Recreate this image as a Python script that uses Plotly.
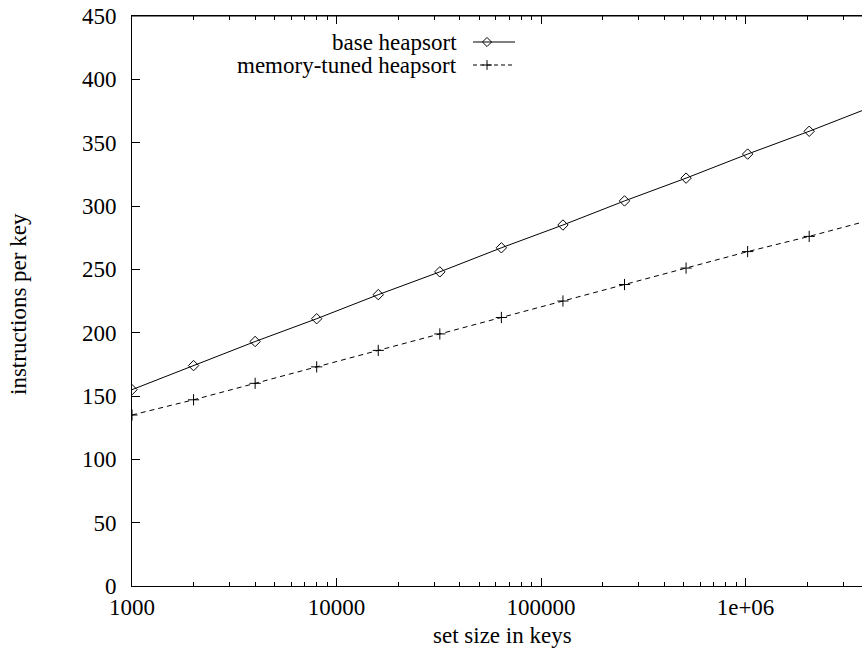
import plotly.graph_objects as go

# Set sizes (keys) and instruction counts per key
set_size = [1000, 2000, 4000, 8000, 16000, 32000, 64000, 128000,
            256000, 512000, 1024000, 2048000, 4096000]
base_heapsort = [155, 174, 193, 211, 230, 248, 267, 285,
                 304, 322, 341, 359, 378]
tuned_heapsort = [135, 147, 160, 173, 186, 199, 212, 225,
                  238, 251, 264, 276, 289]

x_tickvals = [1000, 10000, 100000, 1000000]
x_ticktext = ["1000", "10000", "100000", "1e+06"]
y_tickvals = [0, 50, 100, 150, 200, 250, 300, 350, 400, 450]

legend_names = ["base heapsort", "memory-tuned heapsort"]

FONT = "Liberation Serif"
FS = 23
W, H = 862, 649
L, R, T, B = 132, 0, 16, 63
XRANGE = [3, 6.5695]
YRANGE = [0, 450]

minor_vals = []
for dec in [1000, 10000, 100000, 1000000]:
    for m in range(2, 10):
        minor_vals.append(dec * m)

fig = go.Figure()

fig.add_trace(go.Scatter(
    x=set_size, y=base_heapsort, mode="lines+markers",
    line=dict(color="black", width=1),
    marker=dict(symbol="diamond-open", size=8, color="black",
                line=dict(width=1, color="black")),
    showlegend=False, cliponaxis=True,
))
fig.add_trace(go.Scatter(
    x=set_size, y=tuned_heapsort, mode="lines+markers",
    line=dict(color="black", width=1, dash="5px,4px"),
    marker=dict(symbol="cross-thin-open", size=8, color="black",
                line=dict(width=1, color="black")),
    showlegend=False, cliponaxis=True,
))

# Key placement helpers (pixel -> paper / axis units)
pw = W - L - R
ph = H - T - B
def px_to_paper_x(px):
    return (px - L) / pw
def px_to_paper_y(py):
    return 1 - (py - T) / ph
def px_to_axis_x(px):
    return 10 ** (XRANGE[0] + px_to_paper_x(px) * (XRANGE[1] - XRANGE[0]))
def px_to_axis_y(py):
    return YRANGE[0] + px_to_paper_y(py) * (YRANGE[1] - YRANGE[0])

# Key samples: line with a point symbol, to the right of the labels
key_rows = [42, 65]
key_x0, key_x1, key_mark = 473, 515, 487
styles = [
    (dict(color="black", width=1), "diamond-open"),
    (dict(color="black", width=1, dash="4px,3px"), "cross-thin-open"),
]
for name, row, (ln, sym) in zip(legend_names, key_rows, styles):
    yy = px_to_axis_y(row)
    fig.add_trace(go.Scatter(
        x=[px_to_axis_x(key_x0), px_to_axis_x(key_x1)], y=[yy, yy],
        mode="lines", line=ln, showlegend=False, hoverinfo="skip",
    ))
    fig.add_trace(go.Scatter(
        x=[px_to_axis_x(key_mark)], y=[yy], mode="markers",
        marker=dict(symbol=sym, size=7, color="black",
                    line=dict(width=1, color="black")),
        showlegend=False, hoverinfo="skip",
    ))
    fig.add_annotation(
        text=name, x=px_to_paper_x(459), y=px_to_paper_y(row),
        xref="paper", yref="paper",
        xanchor="right", yanchor="middle", showarrow=False,
        font=dict(family=FONT, size=FS, color="black"),
    )

fig.add_annotation(
    text="set size in keys", x=px_to_paper_x(502), y=px_to_paper_y(635),
    xref="paper", yref="paper", xanchor="center", yanchor="middle",
    showarrow=False, font=dict(family=FONT, size=FS, color="black"),
)
fig.add_annotation(
    text="instructions per key", x=px_to_paper_x(18), y=px_to_paper_y(304),
    xref="paper", yref="paper", xanchor="center", yanchor="middle",
    textangle=-90, showarrow=False,
    font=dict(family=FONT, size=FS, color="black"),
)

# top border of the frame
fig.add_shape(type="line", xref="paper", yref="paper", x0=0, x1=1, y0=1, y1=1,
              line=dict(color="black", width=1))

fig.update_layout(
    width=W, height=H,
    margin=dict(l=L, r=R, t=T, b=B),
    paper_bgcolor="white", plot_bgcolor="white",
    font=dict(family=FONT, size=FS, color="black"),
    xaxis=dict(
        type="log", range=XRANGE,
        tickvals=x_tickvals, ticktext=x_ticktext,
        ticks="inside", ticklen=8, tickwidth=1, tickcolor="black",
        showline=True, linecolor="black", linewidth=1, mirror="allticks",
        showgrid=False, zeroline=False,
        minor=dict(tickvals=minor_vals, ticks="inside", ticklen=4,
                   tickwidth=1, tickcolor="black", showgrid=False),
    ),
    yaxis=dict(
        range=YRANGE, tickvals=y_tickvals,
        ticks="inside", ticklen=8, tickwidth=1, tickcolor="black",
        showline=True, linecolor="black", linewidth=1,
        showgrid=False, zeroline=False,
        ticklabelstandoff=10,
    ),
)

fig.write_html("out.html")
